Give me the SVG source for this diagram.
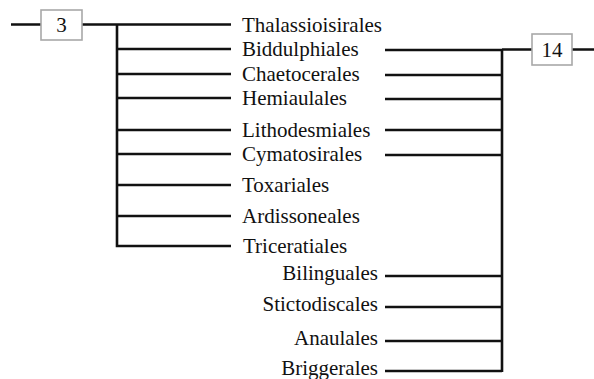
<svg xmlns="http://www.w3.org/2000/svg" width="594" height="379" viewBox="0 0 594 379">
<style>
.ln{stroke:#111;stroke-width:2.6;fill:none;stroke-linecap:butt}
.bx{fill:#fff;stroke:#a8a8a8;stroke-width:1.6}
text{font-family:"Liberation Serif","Times New Roman",serif;font-size:21px;fill:#111}
.r{text-anchor:end}
.c{text-anchor:middle}
</style>
<rect width="594" height="379" fill="#fff"/>
<g id="connectors">
<path class="ln" d="M11 24.5H41M82 24.5H231M117 24.5V246H231M117 49H231M117 74H231M117 98H231M117 130H231M117 154H231M117 185H231M117 216H231"/>
<path class="ln" d="M385 50H502M385 75H502M385 99H502M385 130H502M385 155H502M385 276H502M385 307H502M385 341H502M385 371H502M502 49V372M502 49.5H532M572 49.5H594"/>
</g>
<g id="node-3"><rect class="bx" x="41" y="10" width="41" height="30"/><text class="c" x="61.5" y="32">3</text></g>
<g id="node-14"><rect class="bx" x="532" y="34" width="40" height="31"/><text class="c" x="552" y="57">14</text></g>
<g id="node-thalassioisirales"><text x="242" y="32">Thalassioisirales</text></g>
<g id="node-biddulphiales"><text x="242" y="56">Biddulphiales</text></g>
<g id="node-chaetocerales"><text x="242" y="81">Chaetocerales</text></g>
<g id="node-hemiaulales"><text x="242" y="105">Hemiaulales</text></g>
<g id="node-lithodesmiales"><text x="242" y="137">Lithodesmiales</text></g>
<g id="node-cymatosirales"><text x="242" y="161">Cymatosirales</text></g>
<g id="node-toxariales"><text x="242" y="192">Toxariales</text></g>
<g id="node-ardissoneales"><text x="242" y="223">Ardissoneales</text></g>
<g id="node-triceratiales"><text x="243" y="253">Triceratiales</text></g>
<g id="node-bilinguales"><text class="r" x="378" y="280">Bilinguales</text></g>
<g id="node-stictodiscales"><text class="r" x="378" y="311">Stictodiscales</text></g>
<g id="node-anaulales"><text class="r" x="378" y="344.5">Anaulales</text></g>
<g id="node-briggerales"><text class="r" x="378" y="374.5">Briggerales</text></g>
</svg>
